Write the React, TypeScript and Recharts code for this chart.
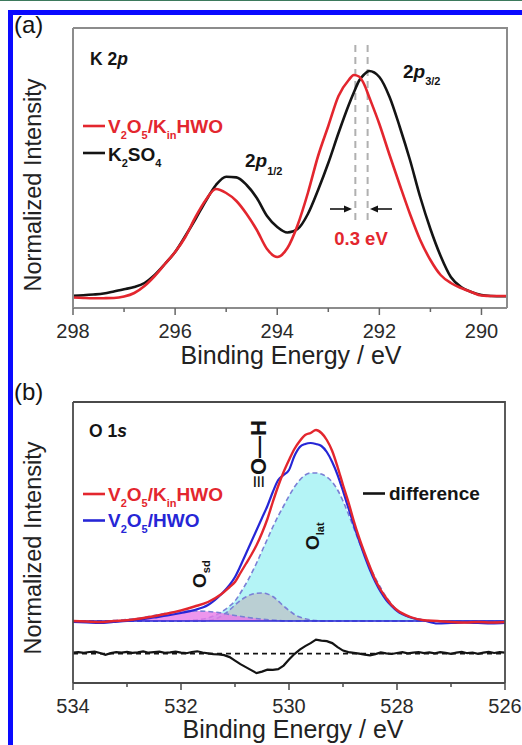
import React from "react";
import {
  ComposedChart,
  Line,
  Area,
  XAxis,
  YAxis,
  ReferenceLine,
} from "recharts";

// ─── Panel (a): K 2p ──────────────────────────────────────────────────────────

const energyA = [
  298.0, 297.8, 297.6, 297.4, 297.2, 297.0, 296.8, 296.6, 296.4, 296.2,
  296.0, 295.8, 295.6, 295.4, 295.2, 295.0, 294.8, 294.6, 294.4, 294.2,
  294.0, 293.8, 293.6, 293.4, 293.2, 293.0, 292.8, 292.6, 292.5, 292.4,
  292.3, 292.2, 292.0, 291.8, 291.6, 291.4, 291.2, 291.0, 290.8, 290.6,
  290.4, 290.2, 290.0, 289.8, 289.6, 289.5,
];
const k2so4A = [
  0.3, 0.8, 1.5, 2.5, 4.5, 6.7, 9, 13, 21, 32,
  44, 60, 77, 95, 111, 119.3, 118.6, 111, 98, 80,
  69, 63.5, 67, 82, 106, 133, 163, 191, 203.5, 215,
  221.5, 225, 219, 199, 169, 136, 99, 67, 40, 19,
  9, 4, 1, 0, -0.3, -0.3,
];
const vkA = [
  -1.5, -2, -2.3, -2.2, -2, -0.5, 3, 10, 20, 32,
  44, 59, 79, 96, 107, 103, 95, 82, 66, 47,
  39, 48, 71, 103, 140, 170, 200, 216, 221, 219.5,
  212, 199, 172, 141, 111, 82, 56, 36, 21, 13,
  8, 4, 0.5, 0, 0, 0,
];
const ticksA = [298, 297, 296, 295, 294, 293, 292, 291, 290];
const peakShiftA = [292.47, 292.23]; // red / black 2p3/2 maxima

// ─── Panel (b): O 1s ──────────────────────────────────────────────────────────

const energyB = [
  534.0, 533.75, 533.5, 533.25, 533.0, 532.75, 532.5, 532.25, 532.0, 531.75,
  531.5, 531.25, 531.1, 531.0, 530.9, 530.8, 530.7, 530.6, 530.5, 530.4,
  530.3, 530.2, 530.1, 530.0, 529.9, 529.8, 529.7, 529.6, 529.5, 529.4,
  529.3, 529.2, 529.1, 529.0, 528.9, 528.8, 528.7, 528.6, 528.5, 528.4,
  528.3, 528.2, 528.1, 528.0, 527.75, 527.5, 527.25, 527.0, 526.75, 526.5,
  526.25, 526.0,
];
const vkB = [
  0, -0.5, -1, 0, 0.7, 2.5, 4.7, 7.5, 10.7, 14.5,
  19, 27, 34, 39, 48, 57, 66, 76, 88, 102,
  119, 135, 149, 161, 172, 180, 186, 188, 191, 188,
  181, 170, 154, 136, 119, 100, 83, 68, 54, 41,
  31, 23, 16, 11, 4, 0.7, 0, -1, -1.5, -1,
  -1.5, -1,
];
const hwoB = [
  -1, -1.5, -2, -1, 0, 1.5, 3.5, 5.5, 8, 11,
  16, 27, 36, 44, 55, 67, 79, 91, 103, 115,
  129, 141, 146, 151, 165, 174, 177, 178, 177, 175,
  169, 159, 146, 130, 113, 96, 80, 65, 51, 39,
  29, 21, 15, 10, 3.5, 0.5, -2.5, -2, -1.5, -2,
  -2.5, -2,
];

// fitted components
const energyLat = [
  534.0, 532.0, 531.75, 531.5, 531.25, 531.1, 531.0, 530.9, 530.8, 530.7,
  530.6, 530.5, 530.4, 530.3, 530.2, 530.1, 530.0, 529.9, 529.8, 529.7,
  529.6, 529.5, 529.4, 529.3, 529.2, 529.1, 529.0, 528.9, 528.8, 528.7,
  528.6, 528.5, 528.4, 528.3, 528.2, 528.1, 528.0, 527.75, 527.5, 527.25,
  527.0, 526.0,
];
const latFit = [
  0, 0, 1, 3, 9, 15, 20, 28, 37, 47,
  58, 70, 82, 94, 105, 115, 125, 134, 141, 146,
  148, 148, 147, 144, 139, 131, 120, 107, 93, 79,
  66, 54, 43, 33, 24, 17, 11, 3.5, 1, 0,
  0, 0,
];
const energyOH = [
  534.0, 531.6, 531.5, 531.4, 531.3, 531.2, 531.1, 531.0, 530.9, 530.8,
  530.7, 530.6, 530.5, 530.4, 530.3, 530.2, 530.1, 530.0, 529.9, 529.8,
  529.7, 529.6, 529.5, 529.4, 529.3, 526.0,
];
const ohFit = [
  0, 0, 0.5, 1.5, 3.5, 6.5, 11, 16, 20.5, 24,
  26.5, 27.8, 28, 27, 24.5, 20, 15, 10.5, 6.5, 4,
  2.2, 1, 0.4, 0, 0, 0,
];
const energySd = [
  534.0, 533.5, 533.25, 533.0, 532.75, 532.5, 532.25, 532.0, 531.75, 531.5,
  531.25, 531.0, 530.75, 530.5, 530.25, 530.0, 526.0,
];
const sdFit = [
  0, 0, 0.5, 1.5, 3, 5.5, 8, 9.5, 10, 9.5,
  8, 5.5, 3.5, 1.8, 0.7, 0, 0,
];

// difference spectrum (drawn with a vertical offset)
const energyDiff = [
  534.0, 533.9, 533.8, 533.7, 533.6, 533.5, 533.4, 533.3, 533.2, 533.1,
  533.0, 532.9, 532.8, 532.7, 532.6, 532.5, 532.4, 532.3, 532.2, 532.1,
  532.0, 531.9, 531.8, 531.7, 531.6, 531.5, 531.4, 531.3, 531.2, 531.1,
  531.0, 530.9, 530.8, 530.7, 530.6, 530.5, 530.4, 530.3, 530.2, 530.1,
  530.0, 529.9, 529.8, 529.7, 529.6, 529.5, 529.4, 529.3, 529.2, 529.1,
  529.0, 528.9, 528.8, 528.7, 528.6, 528.5, 528.4, 528.3, 528.2, 528.1,
  528.0, 527.9, 527.8, 527.7, 527.6, 527.5, 527.4, 527.3, 527.2, 527.1,
  527.0, 526.9, 526.8, 526.7, 526.6, 526.5, 526.4, 526.3, 526.2, 526.1,
  526.0,
];
const diffB = [
  1.0, 1.5, 0.8, 1.6, 2.0, 0.6, -1.2, 0.5, 1.4, 1.0,
  1.8, 0.7, 1.2, 2.2, 0.9, 1.5, 1.9, 0.8, 1.3, 2.0,
  1.0, 0.4, 1.6, 2.3, 1.1, 0.2, -0.6, -0.8, -1.5, -3.5,
  -7, -10.5, -13.5, -16.5, -19.5, -18, -16, -16.3, -15.5, -12,
  -6, -0.5, 4, 7.5, 10.5, 14, 13, 12.5, 10.5, 6.5,
  3, 1.5, 0.8, 0, -1, -1.8, -0.5, 1.2, 0.3, -0.4,
  0.6, 1.4, 0.2, 1.0, 1.6, 0.5, 1.2, 0.3, 1.5, 0.8,
  -0.3, 1.0, 1.8, 0.4, 1.1, -0.2, 0.9, 1.7, 0.6, 1.4,
  1.0,
];
const DIFF_OFFSET = -32.6;
const ticksB = [534, 533, 532, 531, 530, 529, 528, 527, 526];

// ─── Style ────────────────────────────────────────────────────────────────────

const FONT = '"Liberation Sans", Arial, Helvetica, sans-serif';
const RED = "#e3262e";
const BLUE = "#2626d6";
const BLACK = "#141414";
const FIT = "#7a7fd6";
const FRAME_A = "#8c8c8c";
const FRAME_B = "#4a4a4a";

const dataA = energyA.map((e, i) => ({ e, k2so4: k2so4A[i], vk: vkA[i] }));
const pts = (xs: number[], ys: number[], off = 0) =>
  xs.map((e, i) => ({ e, v: ys[i] + off }));

// ─── Ticks ────────────────────────────────────────────────────────────────────

function EnergyTick({ x, y, payload, stroke }: any) {
  const major = payload.value % 2 === 0;
  return (
    <g>
      <line x1={x} x2={x} y1={y} y2={y + (major ? 7 : 4)} stroke={stroke} strokeWidth={1.5} />
      {major && (
        <text x={x} y={y + 30} textAnchor="middle" fontSize={20} fill="#2a2a2a" fontFamily={FONT}>
          {payload.value}
        </text>
      )}
    </g>
  );
}

// ─── Overlay text ─────────────────────────────────────────────────────────────

function Formula({ x, y, color, parts }: { x: number; y: number; color: string; parts: [string, boolean][] }) {
  // parts: [text, isSubscript]
  let prevSub = false;
  return (
    <text x={x} y={y} fontSize={19} fontWeight="bold" fill={color} fontFamily={FONT}>
      {parts.map(([t, sub], i) => {
        const dy = sub && !prevSub ? 6 : !sub && prevSub ? -6 : 0;
        prevSub = sub;
        return (
          <tspan key={i} dy={dy} fontSize={sub ? 11 : 19}>
            {t}
          </tspan>
        );
      })}
    </text>
  );
}

const vkParts: [string, boolean][] = [["V", false], ["2", true], ["O", false], ["5", true], ["/K", false], ["in", true], ["HWO", false]];
const k2so4Parts: [string, boolean][] = [["K", false], ["2", true], ["SO", false], ["4", true]];
const hwoParts: [string, boolean][] = [["V", false], ["2", true], ["O", false], ["5", true], ["/HWO", false]];

function Overlay() {
  return (
    <svg width={522} height={745} style={{ position: "absolute", left: 0, top: 0, pointerEvents: "none" }} fontFamily={FONT}>
      {/* plot frames */}
      <path d="M73,28 H507 V308 M73,28 V308" fill="none" stroke={FRAME_A} strokeWidth={2} />
      <path d="M73,402 H505 V683 M73,402 V683" fill="none" stroke={FRAME_B} strokeWidth={1.8} />

      {/* panel (a) */}
      <text x={14} y={33} fontSize={24} fill={BLACK}>(a)</text>
      <text transform="translate(41,185) rotate(-90)" textAnchor="middle" fontSize={23.5} fill="#222">Normalized Intensity</text>
      <text x={291} y={364} textAnchor="middle" fontSize={25} fill="#222">Binding Energy / eV</text>
      <text x={90} y={65} fontSize={17.5} fontWeight="bold" fill={BLACK}>
        K 2<tspan fontStyle="italic">p</tspan>
      </text>
      <line x1={83} x2={105} y1={126} y2={126} stroke={RED} strokeWidth={2.6} />
      <Formula x={108} y={132.5} color={RED} parts={vkParts} />
      <line x1={83} x2={105} y1={153} y2={153} stroke={BLACK} strokeWidth={2.6} />
      <Formula x={108} y={160.5} color={BLACK} parts={k2so4Parts} />
      <text x={245} y={166.5} fontSize={19} fontWeight="bold" fill={BLACK}>
        2<tspan fontStyle="italic">p</tspan>
        <tspan fontSize={11} dy={8}>1/2</tspan>
      </text>
      <text x={403} y={78} fontSize={19} fontWeight="bold" fill={BLACK}>
        2<tspan fontStyle="italic">p</tspan>
        <tspan fontSize={11} dy={7}>3/2</tspan>
      </text>
      <line x1={330} x2={346} y1={209} y2={209} stroke={BLACK} strokeWidth={1.6} />
      <polygon points="352,209 344,205.5 344,212.5" fill={BLACK} />
      <line x1={392} x2={376} y1={209} y2={209} stroke={BLACK} strokeWidth={1.6} />
      <polygon points="370,209 378,205.5 378,212.5" fill={BLACK} />
      <text x={361} y={245} textAnchor="middle" fontSize={18.5} fontWeight="bold" fill={RED}>0.3 eV</text>

      {/* panel (b) */}
      <text x={14} y={400} fontSize={24} fill={BLACK}>(b)</text>
      <text transform="translate(41,548) rotate(-90)" textAnchor="middle" fontSize={23.5} fill="#222">Normalized Intensity</text>
      <text x={293} y={738} textAnchor="middle" fontSize={25} fill="#222">Binding Energy / eV</text>
      <text x={89} y={436.5} fontSize={17.5} fontWeight="bold" fill={BLACK}>
        O 1<tspan fontStyle="italic">s</tspan>
      </text>
      <line x1={83} x2={105} y1={494} y2={494} stroke={RED} strokeWidth={2.6} />
      <Formula x={108} y={500.5} color={RED} parts={vkParts} />
      <line x1={83} x2={105} y1={520.5} y2={520.5} stroke={BLUE} strokeWidth={2.6} />
      <Formula x={108} y={527} color={BLUE} parts={hwoParts} />
      <line x1={363} x2={385} y1={493.5} y2={493.5} stroke={BLACK} strokeWidth={2.6} />
      <text x={389} y={500} fontSize={19} fontWeight="bold" fill={BLACK}>difference</text>
      <text transform="translate(266,454) rotate(-90)" textAnchor="middle" fontSize={22} fontWeight="bold" fill={BLACK}>≡O—H</text>
      <text transform="translate(206,588) rotate(-90)" fontSize={19} fontWeight="bold" fill={BLACK}>
        O<tspan fontSize={11} dy={4}>sd</tspan>
      </text>
      <text transform="translate(319,550) rotate(-90)" fontSize={19} fontWeight="bold" fill={BLACK}>
        O<tspan fontSize={11} dy={5}>lat</tspan>
      </text>
    </svg>
  );
}

// ─── Component ────────────────────────────────────────────────────────────────

export default function App() {
  return (
    <div style={{ position: "absolute", left: 0, top: 0, width: 522, height: 745, background: "#fff", overflow: "hidden", fontFamily: FONT }}>
      {/* journal page frame */}
      <div style={{ position: "absolute", left: 0, top: 0, width: 522, height: 1, background: "#3d7a5c" }} />
      <div style={{ position: "absolute", left: 8, top: 10, width: 514, height: 5, background: "#0a0aff" }} />
      <div style={{ position: "absolute", left: 8, top: 10, width: 5, height: 735, background: "#0a0aff" }} />

      {/* (a) K 2p */}
      <div style={{ position: "absolute", left: 0, top: 0 }}>
        <ComposedChart width={522} height={370} data={dataA} margin={{ top: 28, right: 15, bottom: 32, left: 73 }}>
          <XAxis
            type="number"
            dataKey="e"
            domain={[289.5, 298]}
            reversed
            allowDataOverflow
            ticks={ticksA}
            interval={0}
            height={30}
            axisLine={{ stroke: FRAME_A, strokeWidth: 2 }}
            tickLine={false}
            tickSize={0}
            tickMargin={0}
            tick={(p: any) => <EnergyTick {...p} stroke="#666" />}
          />
          <YAxis hide domain={[-12, 268]} allowDataOverflow />
          {peakShiftA.map((x) => (
            <ReferenceLine
              key={x}
              segment={[{ x, y: 251 }, { x, y: 76 }]}
              stroke="#b0b0b0"
              strokeWidth={2}
              strokeDasharray="7 5"
            />
          ))}
          <Line type="monotone" dataKey="k2so4" stroke={BLACK} strokeWidth={2.6} dot={false} activeDot={false} isAnimationActive={false} />
          <Line type="monotone" dataKey="vk" stroke={RED} strokeWidth={2.6} dot={false} activeDot={false} isAnimationActive={false} />
        </ComposedChart>
      </div>

      {/* (b) O 1s */}
      <div style={{ position: "absolute", left: 0, top: 370 }}>
        <ComposedChart width={522} height={375} margin={{ top: 32, right: 17, bottom: 32, left: 73 }}>
          <XAxis
            type="number"
            dataKey="e"
            domain={[526, 534]}
            reversed
            allowDataOverflow
            ticks={ticksB}
            interval={0}
            height={30}
            axisLine={{ stroke: FRAME_B, strokeWidth: 1.8 }}
            tickLine={false}
            tickSize={0}
            tickMargin={0}
            tick={(p: any) => <EnergyTick {...p} stroke={FRAME_B} />}
          />
          <YAxis hide domain={[-62, 219]} allowDataOverflow />
          <Area data={pts(energyLat, latFit)} dataKey="v" type="monotone" baseValue={0} fill="#b4f4f6" fillOpacity={1} stroke={FIT} strokeWidth={1.6} strokeDasharray="5 3" dot={false} activeDot={false} isAnimationActive={false} />
          <Area data={pts(energyOH, ohFit)} dataKey="v" type="monotone" baseValue={0} fill="#bacfd3" fillOpacity={1} stroke={FIT} strokeWidth={1.6} strokeDasharray="5 3" dot={false} activeDot={false} isAnimationActive={false} />
          <Area data={pts(energySd, sdFit)} dataKey="v" type="monotone" baseValue={0} fill="#e87ce8" fillOpacity={0.8} stroke={FIT} strokeWidth={1.6} strokeDasharray="5 3" dot={false} activeDot={false} isAnimationActive={false} />
          <ReferenceLine y={0} stroke={BLUE} strokeWidth={1.6} />
          <ReferenceLine y={DIFF_OFFSET} stroke={BLACK} strokeWidth={1.6} strokeDasharray="5 4" />
          <Line data={pts(energyB, hwoB)} dataKey="v" type="monotone" stroke={BLUE} strokeWidth={2.2} dot={false} activeDot={false} isAnimationActive={false} />
          <Line data={pts(energyB, vkB)} dataKey="v" type="monotone" stroke={RED} strokeWidth={2.4} dot={false} activeDot={false} isAnimationActive={false} />
          <Line data={pts(energyDiff, diffB, DIFF_OFFSET)} dataKey="v" type="linear" stroke={BLACK} strokeWidth={2.2} dot={false} activeDot={false} isAnimationActive={false} />
        </ComposedChart>
      </div>

      <Overlay />
    </div>
  );
}
